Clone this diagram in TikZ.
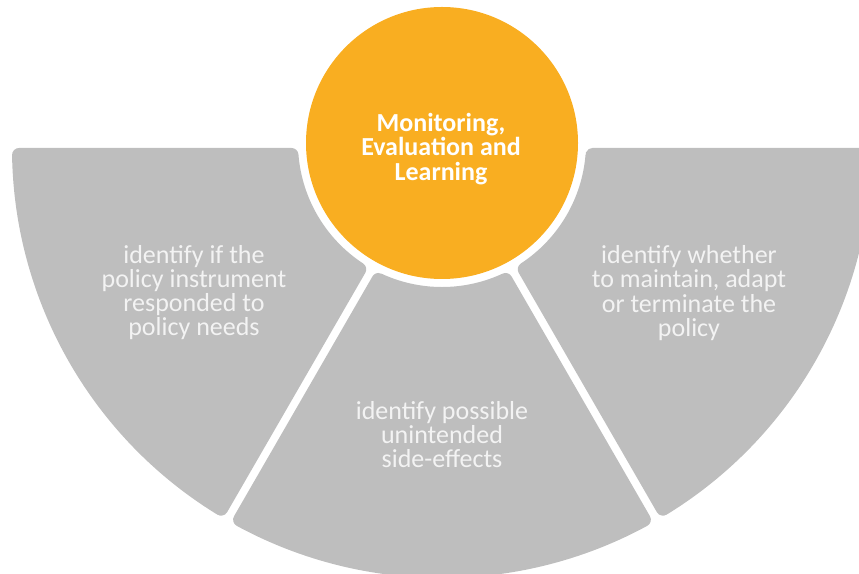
\documentclass[tikz,border=0pt]{standalone}
\usepackage{fontspec}
\setmainfont{Carlito}
\definecolor{seggray}{RGB}{190,190,190}
\definecolor{melorange}{RGB}{249,174,33}
\definecolor{segtext}{RGB}{243,243,243}
\begin{document}
\begin{tikzpicture}[x=1pt,y=1pt,
  segment/.style={fill=seggray, draw=seggray, line width=14pt, line join=round},
  segtxt/.style={text=segtext, align=center, inner sep=0pt,
    font=\fontsize{26}{24.2}\selectfont},
  meltxt/.style={text=white, align=center, inner sep=0pt,
    font=\bfseries\fontsize{26}{24.5}\selectfont},
  melcircle/.style={circle, fill=melorange, minimum size=272pt, inner sep=0pt}]
\useasboundingbox (0,0) rectangle (859,573);
\clip (0,0) rectangle (859,573);
\begin{scope}[shift={(442,425)}]
  % left segment
  \path[segment] (-422.94,-7) arc[start angle=180.95, end angle=238.51, radius=423]
    -- (-82.74,-121.31) arc[start angle=236.78, end angle=184.56, radius=151] -- cycle;
  % middle segment
  \path[segment] (-63.51,-132.0) -- (-201.90,-371.70)
    arc[start angle=241.49, end angle=298.51, radius=423]
    -- (63.51,-132.0) arc[start angle=294.88, end angle=245.12, radius=151] -- cycle;
  % right segment
  \path[segment] (150.52,-7) -- (422.94,-7)
    arc[start angle=-0.95, end angle=-58.51, radius=423]
    -- (82.74,-121.31) arc[start angle=-56.78, end angle=-4.56, radius=151] -- cycle;
\end{scope}
\node[melcircle] (mel) at (442,430) {};
\node[meltxt] (title) at (441,424) {Monitoring,\\Evaluation and\\Learning};
\node[segtxt] (lefttxt) at (194,280.5) {identify if the\\policy instrument\\responded to\\policy needs};
\node[segtxt] (righttxt) at (689,280) {identify whether\\to maintain, adapt\\or terminate the\\policy};
\node[segtxt] (midtxt) at (442,138.5) {identify possible\\unintended\\side-effects};
\end{tikzpicture}
\end{document}
